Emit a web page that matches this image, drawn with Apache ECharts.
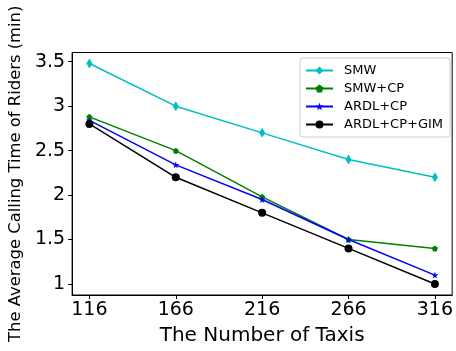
<!DOCTYPE html>
<html><head><meta charset="utf-8">
<script src="https://cdn.jsdelivr.net/npm/echarts@6/dist/echarts.min.js"></script>
<style>html,body{margin:0;padding:0;background:#fff}#c{width:456px;height:351px}</style>
</head><body><div id="c"></div>
<script>
const taxis = [116, 166, 216, 266, 316];
const yTicks = [1, 1.5, 2, 2.5, 3, 3.5];
const seriesNames = ['SMW', 'SMW+CP', 'ARDL+CP', 'ARDL+CP+GIM'];
const smw = [3.48, 3.0, 2.7, 2.4, 2.2];
const smwCp = [2.88, 2.5, 1.98, 1.5, 1.4];
const ardlCp = [2.84, 2.34, 1.95, 1.5, 1.1];
const ardlCpGim = [2.8, 2.2, 1.8, 1.4, 1.0];

const pentagon = 'path://M0,-1 L0.951,-0.309 L0.588,0.809 L-0.588,0.809 L-0.951,-0.309 Z';
const star = 'path://M0,-1 L0.225,-0.309 L0.951,-0.309 L0.363,0.118 L0.588,0.809 L0,0.382 L-0.588,0.809 L-0.363,0.118 L-0.951,-0.309 L-0.225,-0.309 Z';
const font = 'DejaVu Sans';

function mk(name, vals, color, symbol, size) {
  return {
    name, type: 'line', data: taxis.map((x, i) => [x, vals[i]]),
    symbol, symbolSize: size, showSymbol: true,
    lineStyle: { color, width: 1.5 },
    itemStyle: { color, borderWidth: 0 },
    emphasis: { disabled: true }, animation: false
  };
}

const chart = echarts.init(document.getElementById('c'), null, { renderer: 'canvas' });
chart.setOption({
  animation: false,
  grid: { left: 71.5, right: 1.5, top: 52.5, bottom: 54, show: true, borderColor: '#000', borderWidth: 1 },
  xAxis: {
    type: 'value', min: 106, max: 326,
    name: 'The Number of Taxis', nameLocation: 'middle', nameGap: 31,
    nameTextStyle: { fontFamily: font, fontSize: 20, color: '#000' },
    splitLine: { show: false },
    axisLine: { show: true, lineStyle: { color: '#000' } },
    axisTick: { show: true, inside: false, length: 4, lineStyle: { color: '#000' }, customValues: taxis },
    axisLabel: { fontFamily: font, fontSize: 19, color: '#000', margin: 6, customValues: taxis }
  },
  yAxis: {
    type: 'value', min: 0.876, max: 3.604,
    name: 'The Average Calling Time of Riders (min)', nameLocation: 'middle', nameGap: 47, nameRotate: 90,
    nameTextStyle: { fontFamily: font, fontSize: 16.4, color: '#000' },
    splitLine: { show: false },
    axisLine: { show: true, lineStyle: { color: '#000' } },
    axisTick: { show: true, inside: false, length: 4, lineStyle: { color: '#000' }, customValues: yTicks },
    axisLabel: { fontFamily: font, fontSize: 19, color: '#000', margin: 7, customValues: yTicks }
  },
  legend: {
    data: seriesNames, orient: 'vertical', left: 300, top: 58,
    itemWidth: 27, itemHeight: 10, itemGap: 5,
    padding: [6, 7, 6, 5],
    backgroundColor: '#fff', borderColor: '#ccc', borderWidth: 1, borderRadius: 3,
    textStyle: { fontFamily: font, fontSize: 13, color: '#000', padding: [0, 0, 0, 6] }
  },
  series: [
    mk(seriesNames[0], smw, '#00BFBF', 'diamond', [6, 10]),
    mk(seriesNames[1], smwCp, '#008000', pentagon, 6),
    mk(seriesNames[2], ardlCp, '#0000FF', star, 7),
    mk(seriesNames[3], ardlCpGim, '#000000', 'circle', 8)
  ]
});
</script></body></html>
